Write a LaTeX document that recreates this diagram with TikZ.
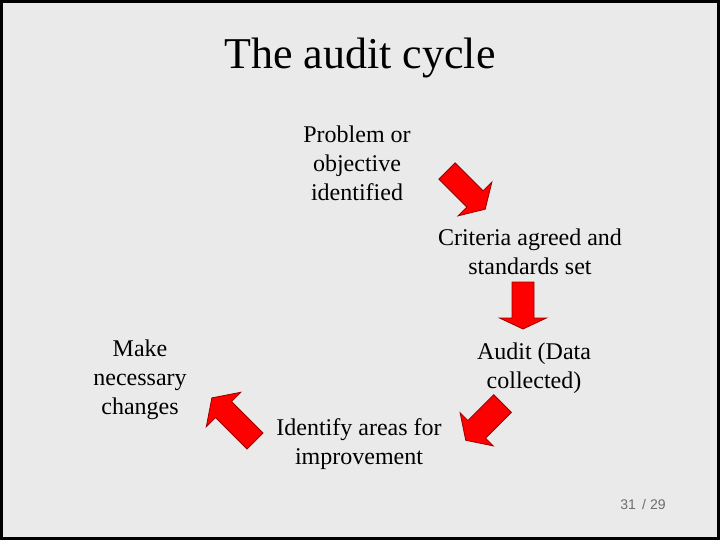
\documentclass[tikz,border=0pt]{standalone}
\usepackage{fontspec}
\setmainfont{Liberation Serif}
\newfontfamily\pagefont{Liberation Sans}
\definecolor{bg}{HTML}{EAEAEA}
\definecolor{arrowred}{HTML}{FF0000}
\definecolor{arrowedge}{HTML}{9A0000}
\definecolor{pagegray}{HTML}{6E6E6E}
\tikzset{
  lbl/.style={align=center, inner sep=0pt, font=\fontsize{24}{28.8}\selectfont},
  pics/blockarrow/.style n args={4}{code={
    \fill[arrowred, draw=arrowedge, line width=0.8pt, line join=miter]
      (0,#2) -- ({#1-#4},#2) -- ({#1-#4},#3) -- (#1,0) -- ({#1-#4},-#3)
      -- ({#1-#4},-#2) -- (0,-#2) -- cycle;
  }}
}
\begin{document}
\begin{tikzpicture}[x=1pt,y=-1pt]
\useasboundingbox (0,0) rectangle (720,540);
\fill[bg] (0,0) rectangle (720,540);
\draw[black, line width=3pt] (1.5,1.5) rectangle (718.5,538.5);

\node[inner sep=0pt, font=\fontsize{44}{50}\selectfont] (title) at (360,58) {The audit cycle};

\node[lbl] (problem) at (357,163) {Problem or\\objective\\identified};
\node[lbl] (criteria) at (530,252) {Criteria agreed and\\standards set};
\node[lbl] (audit) at (534,368) {Audit (Data\\collected)};
\node[lbl] (identify) at (359,444) {Identify areas for\\improvement};
\node[lbl] (make) at (140,380) {Make\\necessary\\changes};

\pic[rotate=-45] at (447,171) {blockarrow={54}{11.5}{24}{14.5}};
\pic[rotate=-90] at (523,282) {blockarrow={47}{11}{23.5}{11}};
\pic[rotate=-135] at (502.5,403.5) {blockarrow={52}{12.5}{23.5}{15.5}};
\pic[rotate=135] at (255,441) {blockarrow={61}{11.3}{24.4}{16.5}};

\node[inner sep=0pt, text=pagegray, font=\pagefont\fontsize{14}{16}\selectfont] (page) at (643,504) {31 \,/ 29};
\end{tikzpicture}
\end{document}
